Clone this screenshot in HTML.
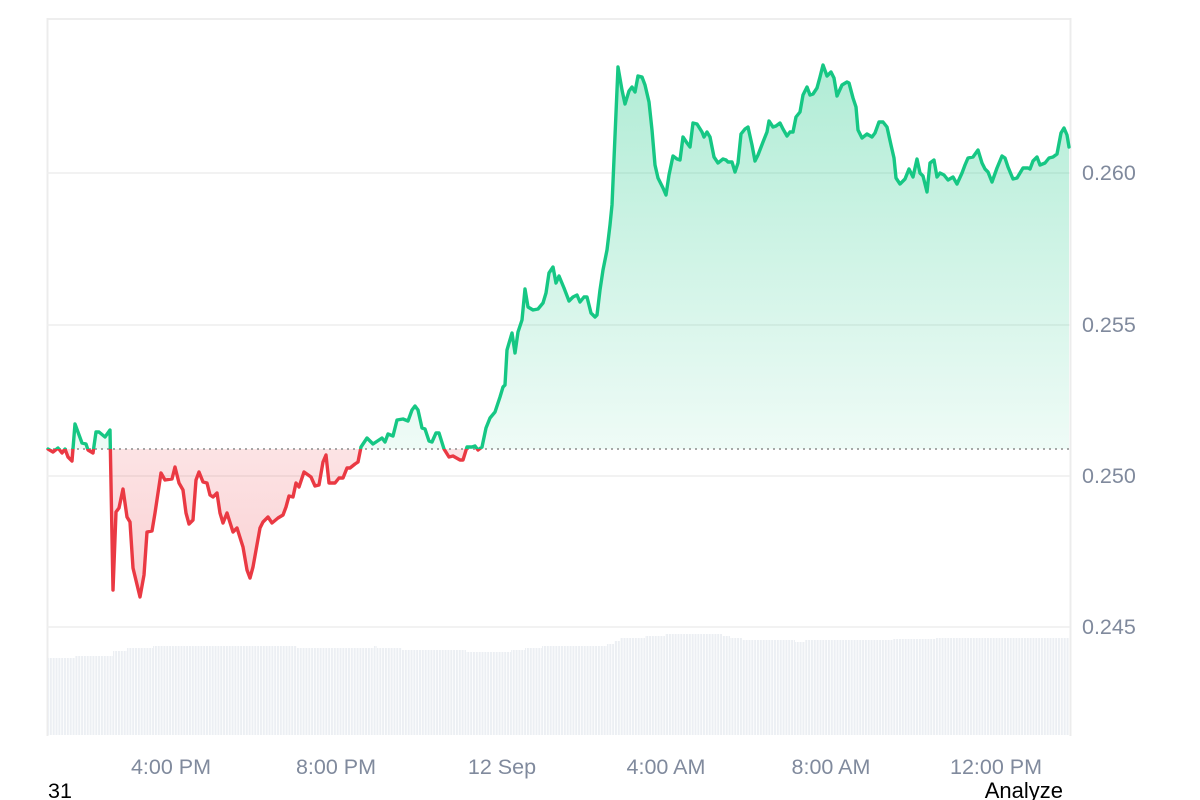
<!DOCTYPE html>
<html>
<head>
<meta charset="utf-8">
<style>
html,body{margin:0;padding:0;background:#fff;}
svg{display:block;}
text{font-family:"Liberation Sans",Arial,sans-serif;}
</style>
</head>
<body>
<svg width="1200" height="800" viewBox="0 0 1200 800" xmlns="http://www.w3.org/2000/svg">
<defs>
  <pattern id="vb" x="47" y="0" width="2.84" height="800" patternUnits="userSpaceOnUse">
    <rect x="0" y="0" width="2" height="800" fill="#eceff3"/>
  </pattern>
  <linearGradient id="gg" x1="0" y1="60" x2="0" y2="449" gradientUnits="userSpaceOnUse">
    <stop offset="0" stop-color="#16c784" stop-opacity="0.34"/>
    <stop offset="1" stop-color="#16c784" stop-opacity="0.07"/>
  </linearGradient>
  <linearGradient id="rg" x1="0" y1="449" x2="0" y2="600" gradientUnits="userSpaceOnUse">
    <stop offset="0" stop-color="#ea3943" stop-opacity="0.14"/>
    <stop offset="1" stop-color="#ea3943" stop-opacity="0.24"/>
  </linearGradient>
  <clipPath id="above"><rect x="0" y="0" width="1200" height="449"/></clipPath>
  <clipPath id="below"><rect x="0" y="449" width="1200" height="351"/></clipPath>
  <path id="area" d="M48,449 L53,452 L58,448 L62,453 L65,449 L68,457 L72,461 L75,424 L82,443 L86,444 L88,450 L93,453 L96,432 L99,432 L105,437 L110,430 L113,590 L116,512 L119,508 L123,489 L127,517 L130,522 L133,568 L140,597 L144,575 L147,532 L152,531 L155,513 L161,473 L165,480 L172,479 L175,467 L179,483 L183,490 L186,513 L189,524 L193,520 L196,480 L199,472 L203,482 L207,483 L210,495 L213,497 L217,493 L220,513 L223,523 L227,513 L233,532 L237,528 L243,547 L247,570 L250,578 L253,567 L260,528 L263,522 L268,517 L272,523 L278,518 L283,515 L286,507 L289,496 L293,497 L296,483 L299,487 L304,472 L311,477 L315,486 L319,485 L323,462 L326,455 L329,483 L335,483 L339,478 L343,478 L347,468 L350,468 L355,464 L358,462 L361,447 L367,438 L373,444 L382,438 L385,442 L388,434 L393,436 L397,420 L403,419 L408,421 L412,410 L415,406 L418,410 L422,428 L425,429 L429,441 L432,442 L436,433 L439,433 L444,449 L449,457 L453,456 L460,460 L463,460 L467,447 L472,447 L475,446 L478,450 L482,447 L486,428 L490,418 L495,412 L500,397 L503,387 L505,385 L507,350 L512,333 L515,353 L518,332 L522,320 L525,289 L528,307 L533,310 L538,309 L543,303 L546,293 L549,273 L553,267 L556,283 L559,276 L564,288 L569,301 L573,297 L577,295 L580,302 L584,297 L587,297 L591,313 L595,317 L597,315 L600,290 L603,270 L607,250 L610,225 L612,205 L618,67 L622,90 L625,104 L629,91 L632,87 L635,92 L638,76 L642,77 L645,85 L649,102 L652,130 L655,165 L658,178 L663,188 L666,195 L669,175 L673,156 L677,159 L680,160 L683,137 L687,143 L690,147 L693,123 L697,124 L702,132 L704,137 L707,132 L710,137 L714,157 L718,163 L723,159 L726,160 L728,162 L732,162 L735,172 L738,163 L741,134 L745,129 L748,127 L752,145 L755,161 L758,155 L763,142 L767,132 L769,121 L773,127 L776,126 L780,123 L783,129 L787,136 L790,132 L793,132 L796,117 L800,112 L803,95 L807,87 L810,95 L813,94 L817,88 L820,77 L823,65 L827,76 L831,72 L834,78 L837,96 L842,85 L847,82 L849,83 L853,98 L856,107 L858,130 L862,138 L867,134 L872,137 L875,133 L879,122 L883,122 L887,127 L891,145 L894,158 L896,178 L900,184 L905,179 L909,169 L913,177 L917,159 L920,173 L923,176 L927,192 L930,163 L934,160 L937,177 L940,173 L944,175 L948,180 L953,177 L957,184 L962,173 L965,165 L968,158 L973,157 L978,150 L982,163 L985,169 L988,172 L992,182 L997,168 L1002,156 L1005,158 L1008,167 L1013,179 L1017,178 L1023,168 L1028,168 L1030,169 L1033,161 L1037,157 L1040,165 L1045,163 L1049,158 L1053,157 L1057,154 L1061,133 L1064,128 L1067,135 L1069,147 L1069,449 L48,449 Z"/>
  <path id="ln" d="M48,449 L53,452 L58,448 L62,453 L65,449 L68,457 L72,461 L75,424 L82,443 L86,444 L88,450 L93,453 L96,432 L99,432 L105,437 L110,430 L113,590 L116,512 L119,508 L123,489 L127,517 L130,522 L133,568 L140,597 L144,575 L147,532 L152,531 L155,513 L161,473 L165,480 L172,479 L175,467 L179,483 L183,490 L186,513 L189,524 L193,520 L196,480 L199,472 L203,482 L207,483 L210,495 L213,497 L217,493 L220,513 L223,523 L227,513 L233,532 L237,528 L243,547 L247,570 L250,578 L253,567 L260,528 L263,522 L268,517 L272,523 L278,518 L283,515 L286,507 L289,496 L293,497 L296,483 L299,487 L304,472 L311,477 L315,486 L319,485 L323,462 L326,455 L329,483 L335,483 L339,478 L343,478 L347,468 L350,468 L355,464 L358,462 L361,447 L367,438 L373,444 L382,438 L385,442 L388,434 L393,436 L397,420 L403,419 L408,421 L412,410 L415,406 L418,410 L422,428 L425,429 L429,441 L432,442 L436,433 L439,433 L444,449 L449,457 L453,456 L460,460 L463,460 L467,447 L472,447 L475,446 L478,450 L482,447 L486,428 L490,418 L495,412 L500,397 L503,387 L505,385 L507,350 L512,333 L515,353 L518,332 L522,320 L525,289 L528,307 L533,310 L538,309 L543,303 L546,293 L549,273 L553,267 L556,283 L559,276 L564,288 L569,301 L573,297 L577,295 L580,302 L584,297 L587,297 L591,313 L595,317 L597,315 L600,290 L603,270 L607,250 L610,225 L612,205 L618,67 L622,90 L625,104 L629,91 L632,87 L635,92 L638,76 L642,77 L645,85 L649,102 L652,130 L655,165 L658,178 L663,188 L666,195 L669,175 L673,156 L677,159 L680,160 L683,137 L687,143 L690,147 L693,123 L697,124 L702,132 L704,137 L707,132 L710,137 L714,157 L718,163 L723,159 L726,160 L728,162 L732,162 L735,172 L738,163 L741,134 L745,129 L748,127 L752,145 L755,161 L758,155 L763,142 L767,132 L769,121 L773,127 L776,126 L780,123 L783,129 L787,136 L790,132 L793,132 L796,117 L800,112 L803,95 L807,87 L810,95 L813,94 L817,88 L820,77 L823,65 L827,76 L831,72 L834,78 L837,96 L842,85 L847,82 L849,83 L853,98 L856,107 L858,130 L862,138 L867,134 L872,137 L875,133 L879,122 L883,122 L887,127 L891,145 L894,158 L896,178 L900,184 L905,179 L909,169 L913,177 L917,159 L920,173 L923,176 L927,192 L930,163 L934,160 L937,177 L940,173 L944,175 L948,180 L953,177 L957,184 L962,173 L965,165 L968,158 L973,157 L978,150 L982,163 L985,169 L988,172 L992,182 L997,168 L1002,156 L1005,158 L1008,167 L1013,179 L1017,178 L1023,168 L1028,168 L1030,169 L1033,161 L1037,157 L1040,165 L1045,163 L1049,158 L1053,157 L1057,154 L1061,133 L1064,128 L1067,135 L1069,147"/>
</defs>

<!-- frame -->
<line x1="47" y1="19" x2="1070" y2="19" stroke="#e8e8e8" stroke-width="1.5"/>
<line x1="47.5" y1="18" x2="47.5" y2="736" stroke="#ececec" stroke-width="2"/>
<line x1="1070.5" y1="18" x2="1070.5" y2="736" stroke="#ececec" stroke-width="2"/>

<!-- gridlines -->
<g stroke="#eeeeee" stroke-width="1.5">
  <line x1="47" y1="173" x2="1070" y2="173"/>
  <line x1="47" y1="325" x2="1070" y2="325"/>
  <line x1="47" y1="476" x2="1070" y2="476"/>
  <line x1="47" y1="627" x2="1070" y2="627"/>
</g>

<!-- volume -->
<path fill="url(#vb)" d="M48,735 V658 H75 V656 H113 V651 H127 V648 H153 V646 H297 V648 H374 V646 H377 V648 H402 V650 H466 V652 H511 V650 H525 V648 H542 V646 H607 V644 H614 V641 H620 V638 H645 V636 H665 V634 H722 V636 H730 V638 H742 V640 H795 V642 H805 V640 H893 V639 H936 V638 H1069 V735 Z"/>

<!-- fills -->
<use href="#area" clip-path="url(#above)" fill="url(#gg)"/>
<use href="#area" clip-path="url(#below)" fill="url(#rg)"/>

<!-- baseline -->
<line x1="47" y1="449" x2="1069" y2="449" stroke="#8c8c8c" stroke-width="1.6" stroke-dasharray="2,4"/>

<!-- line -->
<g fill="none" stroke-width="3.4" stroke-linejoin="round" stroke-linecap="round">
  <use href="#ln" clip-path="url(#above)" stroke="#16c784"/>
  <use href="#ln" clip-path="url(#below)" stroke="#ea3943"/>
</g>

<!-- y labels -->
<g fill="#808a9d" font-size="21.5">
  <text x="1082" y="180">0.260</text>
  <text x="1082" y="332">0.255</text>
  <text x="1082" y="483">0.250</text>
  <text x="1082" y="634">0.245</text>
</g>

<!-- x labels -->
<g fill="#808a9d" font-size="21.5" text-anchor="middle">
  <text x="171" y="774">4:00 PM</text>
  <text x="336" y="774">8:00 PM</text>
  <text x="502" y="774">12 Sep</text>
  <text x="666" y="774">4:00 AM</text>
  <text x="831" y="774">8:00 AM</text>
  <text x="996" y="774">12:00 PM</text>
</g>

<text x="48" y="798" font-size="21.5" fill="#000">31</text>
<text x="1063" y="798" font-size="22" fill="#000" text-anchor="end">Analyze</text>
</svg>
</body>
</html>
